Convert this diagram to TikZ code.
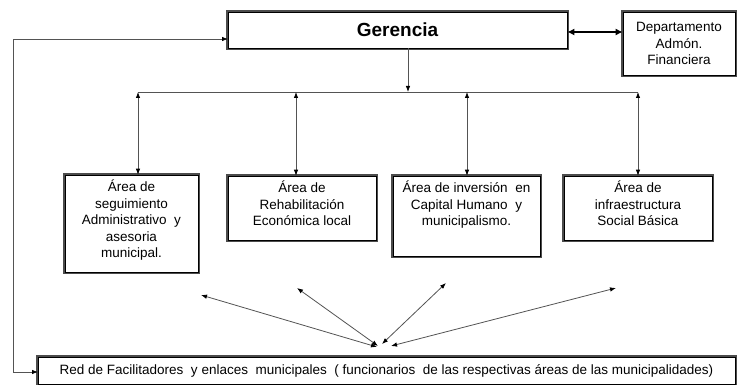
\documentclass[tikz,border=0pt]{standalone}
\usepackage{fontspec}
\setmainfont{Liberation Sans}
\usetikzlibrary{arrows.meta,calc}
\begin{document}
\begin{tikzpicture}[x=1pt,y=-1pt,
  boxst/.style={rectangle, fill=white, preaction={draw=gray!60!black, line width=3.2pt}, draw=black, line width=0.6pt, inner sep=0pt},
  txt/.style={font=\fontsize{13.5}{16.5}\selectfont, align=center, inner sep=0pt},
  conn/.style={draw=gray!65!black, line width=0.8pt},
  tip/.style={{Latex[length=6pt,width=4.5pt,black]}-{Latex[length=6pt,width=4.5pt,black]}},
  tipend/.style={-{Latex[length=6pt,width=4.5pt,black]}}
]
\useasboundingbox (0,0) rectangle (739,385);
% boxes
\node[boxst, minimum width=339pt, minimum height=36pt] (ger) at (397.5,30) {};
\node[font=\fontsize{19}{21}\selectfont\bfseries, inner sep=0pt] (gert) at (ger.center) {Gerencia};
\node[boxst, minimum width=112pt, minimum height=63pt] (dept) at (679,43.5) {};
\node[txt] (deptt) at (dept.center) {Departamento\\Admón.\\Financiera};
\node[boxst, minimum width=133pt, minimum height=97pt] (a1) at (131.5,223.5) {};
\node[txt, anchor=north] (a1t) at ($(a1.north)+(0,5)$) {Área de\\seguimiento\\Administrativo\ \ y\\asesoria\\municipal.};
\node[boxst, minimum width=148pt, minimum height=64pt] (a2) at (302,208) {};
\node[txt, anchor=north] (a2t) at ($(a2.north)+(0,5)$) {Área de\\Rehabilitación\\Económica\ local};
\node[boxst, minimum width=147pt, minimum height=80pt] (a3) at (466.5,216) {};
\node[txt, anchor=north] (a3t) at ($(a3.north)+(0,5)$) {Área de inversión\ \ en\\Capital Humano\ \ y\\municipalismo.};
\node[boxst, minimum width=148pt, minimum height=64pt] (a4) at (638,208) {};
\node[txt, anchor=north] (a4t) at ($(a4.north)+(0,5)$) {Área de\\infraestructura\\Social Básica};
\node[boxst, minimum width=697pt, minimum height=27pt] (red) at (386.5,370.5) {};
\node[txt] (redt) at (red.center) {Red de Facilitadores\ \ y enlaces\ \ municipales\ \ ( funcionarios\ \ de las respectivas áreas de las municipalidades)};
% coordinates
\coordinate (gdown) at (408,48);
\coordinate (bus) at (408,92);
\coordinate (b1) at (138,92);
\coordinate (b2) at (296,92);
\coordinate (b3) at (467,92);
\coordinate (b4) at (638,92);
\coordinate (lgin) at (228,39);
\coordinate (ltop) at (13,39);
\coordinate (lbot) at (13,372);
\coordinate (lrin) at (38,372);
\coordinate (d1) at (201,295);
\coordinate (d2) at (297,288);
\coordinate (d3) at (446,283);
\coordinate (d4) at (616,288);
\coordinate (e1) at (377,347);
\coordinate (e2) at (378,346);
\coordinate (e3) at (382,344);
\coordinate (e4) at (391,346);
% connectors
\draw[line width=2pt, {Latex[length=7pt,width=7pt]}-{Latex[length=7pt,width=7pt]}] (ger.east |- 0,32) -- (dept.west |- 0,32);
\draw[conn, tipend] (gdown) -- (bus);
\draw[conn] (b1) -- (b4);
\draw[conn, tip] (b1) -- (b1 |- a1.north);
\draw[conn, tip] (b2) -- (b2 |- a2.north);
\draw[conn, tip] (b3) -- (b3 |- a3.north);
\draw[conn, tip] (b4) -- (b4 |- a4.north);
\draw[conn, tip] (lrin) -- (lbot) -- (ltop) -- (lgin);
\draw[conn, tip] (d1) -- (e1);
\draw[conn, tip] (d2) -- (e2);
\draw[conn, tip] (d3) -- (e3);
\draw[conn, tip] (d4) -- (e4);
\end{tikzpicture}
\end{document}
